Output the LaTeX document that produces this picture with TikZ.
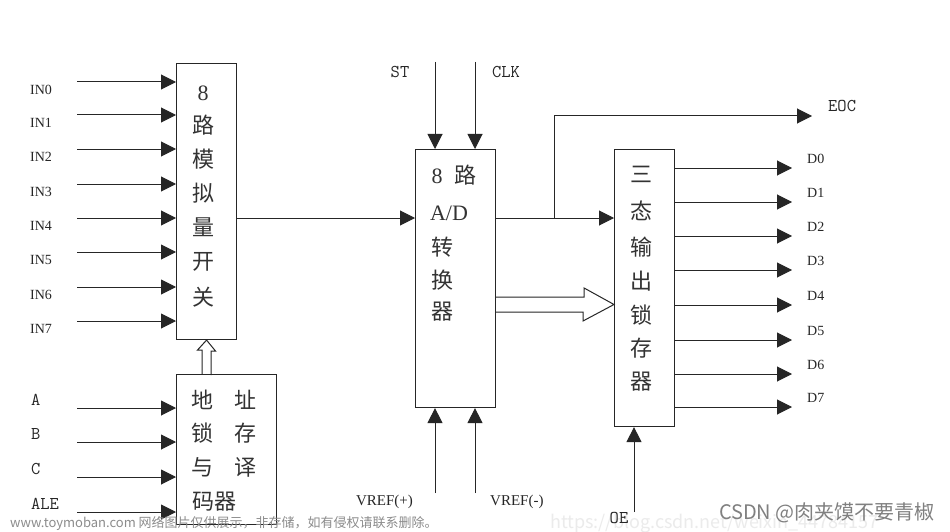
\documentclass[tikz,border=0pt]{standalone}
\usepackage{fontspec}
\setmainfont{Liberation Serif}
\newfontfamily\cjk{Noto Sans CJK SC}
\usetikzlibrary{arrows.meta,calc}
\begin{document}
\begin{tikzpicture}[x=1pt,y=-1pt,
  box/.style={draw=black!85, line width=1.1pt, anchor=north west, inner sep=0pt},
  sig/.style={draw=black!85, line width=1pt, -{Triangle[length=15pt,width=15pt]}},
  hol/.style={draw=black!85, line width=1pt, fill=none},
  lab/.style={font=\fontsize{14}{16}\selectfont, inner sep=0pt, text=black!85},
  mlab/.style={font=\ttfamily\fontsize{18}{20}\selectfont, inner sep=0pt, text=black!85},
  hz/.style={font=\cjk\fontsize{22}{24}\selectfont, inner sep=0pt, text=black!80},
  rm/.style={font=\fontsize{22}{24}\selectfont, inner sep=0pt, text=black!80},
  wm/.style={font=\cjk\fontsize{13}{15}\selectfont, inner sep=0pt, text=black!45}]
\useasboundingbox[fill=white] (0,0) rectangle (950,532);

% faint background watermark
\node[wm, font=\cjk\fontsize{18}{20}\selectfont, text=black!8, anchor=west] (wm3) at (550,524) {https://blog.csdn.net/weixin\_44784157};

% boxes
\node[box, minimum width=60pt, minimum height=276pt] (mux) at (176,63) {};
\node[box, minimum width=100pt, minimum height=150pt] (addr) at (176,374) {};
\node[box, minimum width=80pt, minimum height=258pt] (adc) at (415,149) {};
\node[box, minimum width=60pt, minimum height=277pt] (latch) at (614,149) {};

% mux text
\node[rm] (m0) at (203,93) {8};
\foreach \c/\y [count=\i] in {路/125,模/159,拟/193,量/227,开/262,关/297}
  \node[hz] (m\i) at (203,\y) {\c};

% address text
\node[hz] (a1) at (202,400) {地};
\node[hz] (a2) at (245,400) {址};
\node[hz] (a3) at (202,433) {锁};
\node[hz] (a4) at (245,433) {存};
\node[hz] (a5) at (202,467) {与};
\node[hz] (a6) at (245,467) {译};
\node[hz] (a7) at (214,502) {码器};

% adc text
\node[rm] (c0) at (437,176) {8};
\node[hz] (c1) at (465,175) {路};
\node[rm] (c2) at (449,213) {A/D};
\node[hz] (c3) at (442,247) {转};
\node[hz] (c4) at (442,280) {换};
\node[hz] (c5) at (442,312) {器};

% latch text
\foreach \c/\y [count=\i] in {三/174,态/211,输/247,出/281,锁/315,存/348,器/382}
  \node[hz] (l\i) at (641,\y) {\c};

% analog inputs
\foreach \i/\y in {0/82,1/115,2/149,3/184,4/218,5/252,6/287,7/321}{
  \coordinate (in\i) at (77,\y);
  \draw[sig] (in\i) -- (in\i -| mux.west);
  \node[lab, anchor=west] (lin\i) at (30,\y+7.5) {IN\i};
}

% address inputs
\foreach \n/\t/\y in {A/A/408,B/B/442,C/C/477,L/ALE/512}{
  \coordinate (ad\n) at (77,\y);
  \draw[sig] (ad\n) -- (ad\n -| addr.west);
  \node[mlab, anchor=west] (lad\n) at (31,\y-8.5) {\t};
}

% hollow arrow address -> mux
\draw[hol] ($(addr.north -| mux.south)+(-4.5,0)$) -- ++(0,-24) -- ++(-4.5,0)
  -- (mux.south) -- ++(9,11) -- ++(-4.5,0) -- ++(0,24);

% signal line mux -> adc -> latch
\coordinate (sy) at (0,218);
\draw[sig] (mux.east |- sy) -- (adc.west |- sy);
\draw[sig] (adc.east |- sy) -- (latch.west |- sy);

% EOC
\coordinate (br) at (554,218);
\coordinate (eoc) at (812,116);
\draw[sig] (br) |- (eoc);
\node[mlab, anchor=west] (leoc) at (828,106) {EOC};

% ST, CLK
\coordinate (st) at (435,62);
\coordinate (clk) at (475,62);
\draw[sig] (st) -- (st |- adc.north);
\draw[sig] (clk) -- (clk |- adc.north);
\node[mlab] (lst) at (400,72) {ST};
\node[mlab] (lclk) at (506,72) {CLK};

% VREF
\coordinate (vp) at (435,493);
\coordinate (vm) at (475,493);
\draw[sig] (vp) -- (vp |- adc.south);
\draw[sig] (vm) -- (vm |- adc.south);
\node[lab, font=\fontsize{15}{17}\selectfont, anchor=east] (lvp) at (413,502) {VREF(+)};
\node[lab, font=\fontsize{15}{17}\selectfont, anchor=west] (lvm) at (490,502) {VREF(-)};

% hollow bus arrow adc -> latch
\coordinate (busy) at (0,304.5);
\draw[hol] ($(adc.east |- busy)+(0,-7.5)$) -- ++(88,0) -- ++(0,-9)
  -- (latch.west |- busy) -- ++(-31,16.5) -- ++(0,-9) -- ++(-88,0);

% outputs
\foreach \i/\y in {0/168,1/202,2/236,3/270,4/305,5/340,6/374,7/407}{
  \coordinate (d\i) at (792,\y);
  \draw[sig] (latch.east |- d\i) -- (d\i);
  \node[lab, anchor=west] (ld\i) at (807,\y-9.5) {D\i};
}

% OE
\coordinate (oe) at (634,512);
\draw[sig] (oe) -- (oe |- latch.south);
\node[mlab] (loe) at (619,518) {OE};

% watermarks
\node[wm, anchor=west] (wm1) at (10,523) {www.toymoban.com 网络图片仅供展示，非存储，如有侵权请联系删除。};
\node[wm, font=\cjk\fontsize{20}{22}\selectfont, text=black!50, anchor=east] (wm2) at (935,513) {CSDN @肉夹馍不要青椒};
\end{tikzpicture}
\end{document}
